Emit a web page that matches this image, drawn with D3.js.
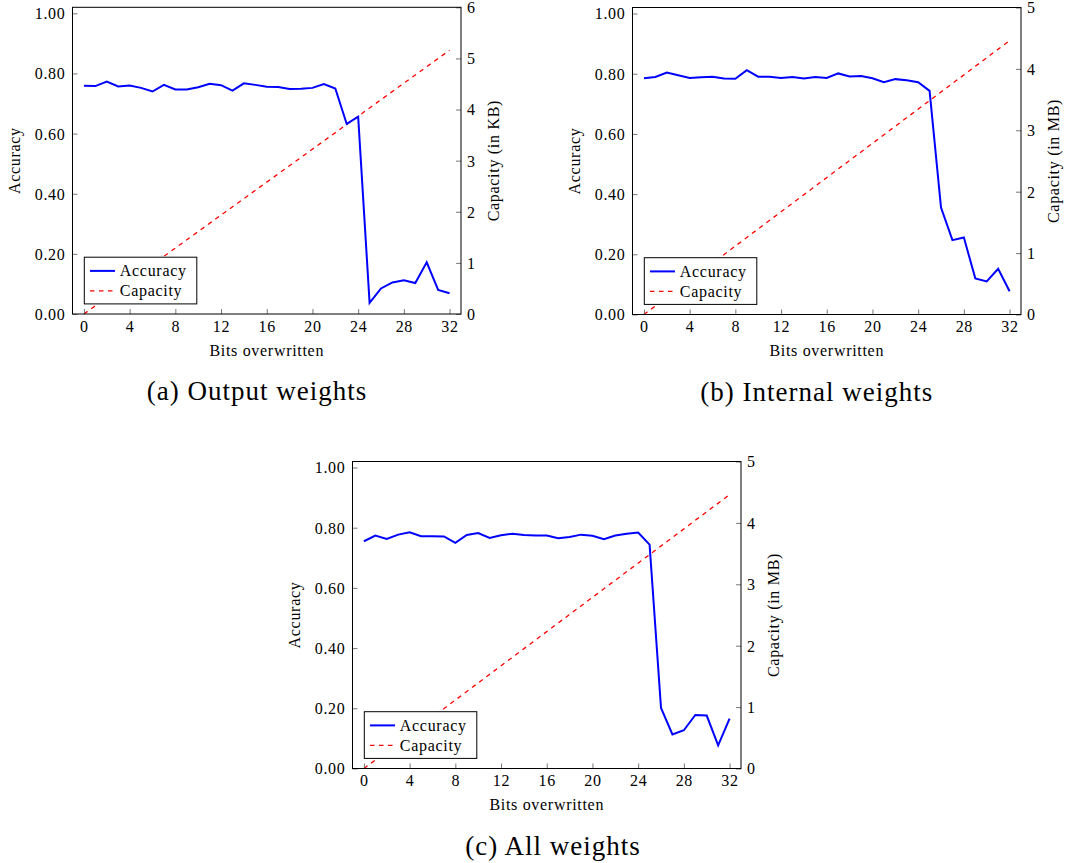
<!DOCTYPE html>
<html>
<head>
<meta charset="utf-8">
<script src="https://cdn.jsdelivr.net/npm/d3@7"></script>
<style>
  html, body { margin: 0; padding: 0; background: #ffffff; }
  svg { display: block; }
  text { font-family: "Liberation Serif", "Times New Roman", serif; fill: #000; }
</style>
</head>
<body>
<svg id="chart" width="1066" height="863"></svg>
<script>
// ---------------- data ----------------
const bits = [0,1,2,3,4,5,6,7,8,9,10,11,12,13,14,15,16,17,18,19,20,21,22,23,24,25,26,27,28,29,30,31,32];

const accuracyOutput = [0.759,0.758,0.773,0.757,0.760,0.752,0.740,0.762,0.747,0.747,0.754,0.766,0.761,0.743,0.767,0.762,0.756,0.755,0.748,0.749,0.752,0.765,0.750,0.632,0.656,0.037,0.085,0.105,0.112,0.103,0.172,0.080,0.069];
const accuracyInternal = [0.785,0.789,0.804,0.795,0.786,0.788,0.790,0.784,0.783,0.812,0.790,0.790,0.786,0.789,0.784,0.789,0.786,0.801,0.791,0.792,0.785,0.772,0.782,0.778,0.772,0.743,0.355,0.247,0.256,0.120,0.110,0.152,0.077];
const accuracyAll = [0.755,0.774,0.763,0.777,0.785,0.772,0.772,0.771,0.750,0.776,0.782,0.766,0.775,0.780,0.776,0.774,0.774,0.765,0.769,0.777,0.773,0.762,0.774,0.780,0.784,0.744,0.201,0.113,0.127,0.178,0.176,0.077,0.166];

const capacityBits = [0, 32];
const capacityOutputKB = [0, 5.16];
const capacityInternalMB = [0, 4.46];
const capacityAllMB = [0, 4.46];

const xTicks = [0,4,8,12,16,20,24,28,32];
const accTicks = [0,0.2,0.4,0.6,0.8,1.0];
const capTicksKB = [0,1,2,3,4,5,6];
const capTicksMB = [0,1,2,3,4,5];

const seriesNames = ["Accuracy", "Capacity"];
const captions = ["(a) Output weights", "(b) Internal weights", "(c) All weights"];
const xTitle = "Bits overwritten";
const leftTitle = "Accuracy";
const rightTitles = ["Capacity (in KB)", "Capacity (in MB)", "Capacity (in MB)"];

// ---------------- layout ----------------
const panels = [
  { left: 72.5, right: 461, top: 7.3, bottom: 314, capMax: 6, acc: accuracyOutput, cap: capacityOutputKB, capTicks: capTicksKB, caption: captions[0], rTitle: rightTitles[0], capX: 257 },
  { left: 632.5, right: 1021, top: 7.5, bottom: 314.5, capMax: 5, acc: accuracyInternal, cap: capacityInternalMB, capTicks: capTicksMB, caption: captions[1], rTitle: rightTitles[1], capX: 816.7 },
  { left: 352.5, right: 741, top: 461.5, bottom: 768.5, capMax: 5, acc: accuracyAll, cap: capacityAllMB, capTicks: capTicksMB, caption: captions[2], rTitle: rightTitles[2], capX: 553 }
];

const svg = d3.select("#chart");
const FS = 16;      // small text size
const LS = 0.7;     // letter spacing to mimic Computer Modern width

panels.forEach(p => {
  const g = svg.append("g");
  const x = d3.scaleLinear().domain([-1, 33]).range([p.left, p.right]);
  const y = d3.scaleLinear().domain([0, 1.02]).range([p.bottom, p.top]);
  const y2 = d3.scaleLinear().domain([0, p.capMax]).range([p.bottom, p.top]);
  const TL = 5;

  // capacity line (drawn first)
  const capLine = d3.line().x((d, i) => x(capacityBits[i])).y(d => y2(d));
  g.append("path").datum(p.cap)
    .attr("d", capLine)
    .attr("fill", "none")
    .attr("stroke", "#ff0000")
    .attr("stroke-width", 1.3)
    .attr("stroke-dasharray", "4.5,4.5");

  // accuracy line
  const accLine = d3.line().x((d, i) => x(bits[i])).y(d => y(d));
  g.append("path").datum(p.acc)
    .attr("d", accLine)
    .attr("fill", "none")
    .attr("stroke", "#0000ff")
    .attr("stroke-width", 2)
    .attr("stroke-linejoin", "miter");

  // axes via d3 axis generators (ticks inward)
  const bottomAxis = d3.axisBottom(x).tickValues(xTicks).tickSizeInner(-TL).tickSizeOuter(0).tickPadding(0).tickFormat(d3.format("d"));
  const gb = g.append("g").attr("transform", `translate(0,${p.bottom})`).call(bottomAxis);
  gb.select(".domain").remove();
  gb.selectAll(".tick line").attr("stroke", "#555").attr("stroke-width", 0.8);
  gb.selectAll(".tick text").attr("y", 17.5).attr("dy", null)
    .style("font-size", FS + "px").style("letter-spacing", LS + "px")
    .style("font-family", '"Liberation Serif", serif');

  const leftAxis = d3.axisLeft(y).tickValues(accTicks).tickSizeInner(-TL).tickSizeOuter(0).tickFormat(d3.format(".2f"));
  const gl = g.append("g").attr("transform", `translate(${p.left},0)`).call(leftAxis);
  gl.select(".domain").remove();
  gl.selectAll(".tick line").attr("stroke", "#555").attr("stroke-width", 0.8);
  gl.selectAll(".tick text").attr("x", -7).attr("dy", "0.34em")
    .style("font-size", FS + "px").style("letter-spacing", LS + "px")
    .style("font-family", '"Liberation Serif", serif');

  const rightAxis = d3.axisRight(y2).tickValues(p.capTicks).tickSizeInner(-TL).tickSizeOuter(0).tickFormat(d3.format("d"));
  const gr = g.append("g").attr("transform", `translate(${p.right},0)`).call(rightAxis);
  gr.select(".domain").remove();
  gr.selectAll(".tick line").attr("stroke", "#555").attr("stroke-width", 0.8);
  gr.selectAll(".tick text").attr("x", 6).attr("dy", "0.34em")
    .style("font-size", FS + "px").style("letter-spacing", LS + "px")
    .style("font-family", '"Liberation Serif", serif');

  // frame
  g.append("rect")
    .attr("x", p.left).attr("y", p.top)
    .attr("width", p.right - p.left).attr("height", p.bottom - p.top)
    .attr("fill", "none").attr("stroke", "#000").attr("stroke-width", 1);

  // axis titles
  g.append("text")
    .attr("x", (p.left + p.right) / 2).attr("y", p.bottom + 41.5)
    .attr("text-anchor", "middle")
    .style("font-size", FS + "px").style("letter-spacing", LS + "px")
    .text(xTitle);

  const ly = (p.top + p.bottom) / 2;
  const lx = p.left - 52.5;
  g.append("text")
    .attr("transform", `translate(${lx},${ly}) rotate(-90)`)
    .attr("text-anchor", "middle")
    .style("font-size", FS + "px").style("letter-spacing", LS + "px")
    .text(leftTitle);

  const rx = p.right + 37.5;
  g.append("text")
    .attr("transform", `translate(${rx},${ly}) rotate(-90)`)
    .attr("text-anchor", "middle")
    .style("font-size", FS + "px").style("letter-spacing", LS + "px")
    .text(p.rTitle);

  // legend
  const lgX = p.left + 11.8, lgY = p.bottom - 56.8;
  const lg = g.append("g").attr("transform", `translate(${lgX},${lgY})`);
  lg.append("rect").attr("width", 112.5).attr("height", 46.7)
    .attr("fill", "#fff").attr("stroke", "#000").attr("stroke-width", 1);
  const styles = [
    { stroke: "#0000ff", w: 2, dash: null },
    { stroke: "#ff0000", w: 1.3, dash: "4.5,4.5" }
  ];
  seriesNames.forEach((name, i) => {
    const yy = 13.7 + i * 20;
    lg.append("line").attr("x1", 5.7).attr("x2", 30.7).attr("y1", yy).attr("y2", yy)
      .attr("stroke", styles[i].stroke).attr("stroke-width", styles[i].w)
      .attr("stroke-dasharray", styles[i].dash);
    lg.append("text").attr("x", 35.5).attr("y", yy + 5.2)
      .style("font-size", FS + "px").style("letter-spacing", LS + "px")
      .text(name);
  });

  // caption
  g.append("text")
    .attr("x", p.capX).attr("y", p.bottom + 86)
    .attr("text-anchor", "middle")
    .style("font-size", "27px").style("letter-spacing", "1px")
    .text(p.caption);
});
</script>
</body>
</html>
